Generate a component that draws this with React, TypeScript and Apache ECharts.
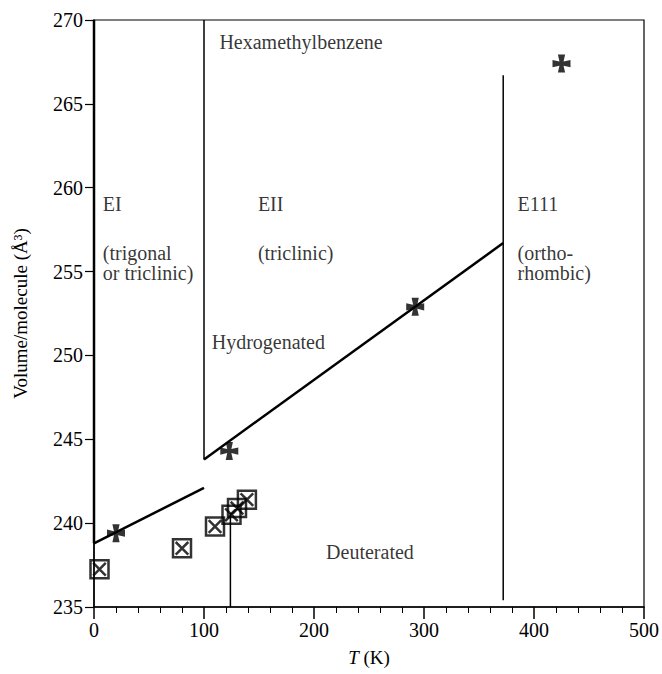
import React, { useEffect, useRef } from "react";
import * as echarts from "echarts";

const hydroT = [20, 123, 292, 425];
const hydroV = [239.4, 244.3, 252.9, 267.4];
const deutT = [5, 80, 110, 125, 130, 139];
const deutV = [237.25, 238.5, 239.8, 240.5, 240.9, 241.4];

const lineEI = [[0, 238.8], [100, 242.1]];
const lineEII = [[100, 243.8], [372, 256.7]];
const boundaries = [
  [[0, 238.8], [0, 270]],
  [[100, 243.8], [100, 270]],
  [[372, 235.4], [372, 266.7]],
  [[124, 235], [124, 240.6]],
];

const xTicks = [0, 100, 200, 300, 400, 500];
const yTicks = [235, 240, 245, 250, 255, 260, 265, 270];

const annotations = [
  { name: "Hexamethylbenzene", value: [114, 268.7] },
  { name: "EI", value: [8, 259] },
  { name: "(trigonal", value: [8, 256.1] },
  { name: "or triclinic)", value: [8, 254.9] },
  { name: "EII", value: [149, 259] },
  { name: "(triclinic)", value: [149, 256.1] },
  { name: "E111", value: [385, 259] },
  { name: "(ortho-", value: [385, 256.1] },
  { name: "rhombic)", value: [385, 254.9] },
  { name: "Hydrogenated", value: [107, 250.8] },
  { name: "Deuterated", value: [211, 238.3] },
];

const FONT = "Liberation Serif";
const crossPath =
  "path://M6,0 L14,0 L12.3,7.7 L20,6 L20,14 L12.3,12.3 L14,20 L6,20 L7.7,12.3 L0,14 L0,6 L7.7,7.7 Z";
const boxPath = "path://M0,0 L20,0 L20,20 L0,20 Z M3,3 L17,17 M17,3 L3,17";

export default function App() {
  const ref = useRef<HTMLDivElement>(null);
  useEffect(() => {
    document.body.style.margin = "0";
    const chart = echarts.init(ref.current!, null, { renderer: "svg" });
    const lineSeries = (data: number[][], width: number) => ({
      type: "line",
      data,
      symbol: "none",
      lineStyle: { color: "#000", width },
      z: 2,
      silent: true,
    });
    chart.setOption({
      animation: false,
      backgroundColor: "#fff",
      grid: {
        left: 94,
        right: 18,
        top: 20,
        bottom: 67,
        outerBoundsMode: "none",
        containLabel: false,
        show: true,
        borderColor: "#000",
        borderWidth: 1.2,
        backgroundColor: "transparent",
      },
      xAxis: {
        type: "value",
        min: xTicks[0],
        max: xTicks[xTicks.length - 1],
        interval: 100,
        name: "{i|T} (K)",
        nameLocation: "middle",
        nameGap: 41,
        nameTextStyle: {
          fontFamily: FONT,
          fontSize: 19,
          color: "#000",
          rich: { i: { fontStyle: "italic", fontFamily: FONT, fontSize: 19, color: "#000" } },
        },
        axisLine: { show: true, onZero: false, lineStyle: { color: "#000", width: 1.5 } },
        axisTick: { show: true, inside: false, length: 12, lineStyle: { color: "#000", width: 1.5 } },
        minorTick: { show: true, splitNumber: 5, length: 6, lineStyle: { color: "#000", width: 1 } },
        splitLine: { show: false },
        axisLabel: { fontFamily: FONT, fontSize: 20, color: "#000", margin: 13 },
      },
      yAxis: {
        type: "value",
        min: yTicks[0],
        max: yTicks[yTicks.length - 1],
        interval: 5,
        name: "Volume/molecule (Å³)",
        nameLocation: "middle",
        nameGap: 64,
        nameRotate: 90,
        nameTextStyle: { fontFamily: FONT, fontSize: 19, color: "#000" },
        axisLine: { show: true, onZero: false, lineStyle: { color: "#000", width: 1.5 } },
        axisTick: { show: true, inside: false, length: 9, lineStyle: { color: "#000", width: 1.2 } },
        splitLine: { show: false },
        axisLabel: { fontFamily: FONT, fontSize: 20, color: "#000", margin: 11 },
      },
      series: [
        lineSeries(lineEI, 2.5),
        lineSeries(lineEII, 2.5),
        ...boundaries.map((b, i) => lineSeries(b, i === 0 ? 2.5 : 1.5)),
        {
          type: "scatter",
          name: "Hydrogenated",
          data: hydroT.map((t, i) => [t, hydroV[i]]),
          symbol: crossPath,
          symbolSize: 18,
          itemStyle: { color: "#000" },
          z: 5,
        },
        {
          type: "scatter",
          name: "Deuterated",
          data: deutT.map((t, i) => [t, deutV[i]]),
          symbol: boxPath,
          symbolSize: 18,
          itemStyle: { color: "transparent", borderColor: "#000", borderWidth: 2.5 },
          z: 5,
        },
        {
          type: "scatter",
          data: annotations,
          symbolSize: 0,
          silent: true,
          label: {
            show: true,
            position: "right",
            distance: 0,
            formatter: "{b}",
            fontFamily: FONT,
            fontSize: 20,
            color: "#000",
          },
          z: 6,
        },
      ],
    });
    return () => chart.dispose();
  }, []);
  return <div ref={ref} style={{ width: 662, height: 674 }} />;
}
